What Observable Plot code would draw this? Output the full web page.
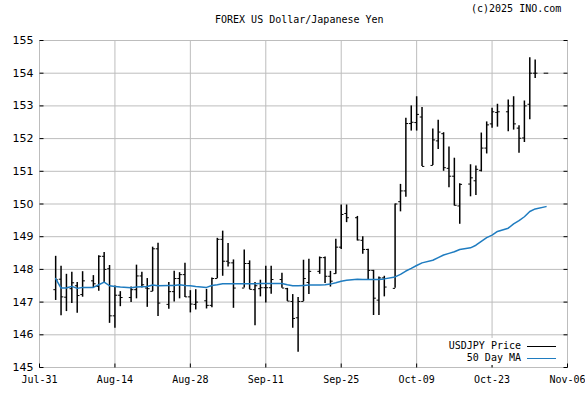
<!DOCTYPE html>
<html><head><meta charset="utf-8">
<script src="https://cdn.jsdelivr.net/npm/d3@7"></script>
<script src="https://cdn.jsdelivr.net/npm/@observablehq/plot@0.6"></script>
<style>
body{margin:0;background:#fff;}
#wrap{position:relative;width:585px;height:394px;font-family:"DejaVu Sans Mono",monospace;}
.t{position:absolute;font-size:10px;line-height:12px;color:#000;white-space:nowrap;}
#legend{position:absolute;left:440px;top:338px;width:126px;height:27px;background:#fff;}
.row{position:absolute;right:0;height:12px;font-size:10px;line-height:12px;display:flex;align-items:center;}
.sw{display:inline-block;width:29px;height:0;margin-left:6px;margin-right:10px;}
</style></head><body><div id="wrap"></div>
<script>
const title = "FOREX US Dollar/Japanese Yen";
const copyright = "(c)2025 INO.com";
const seriesNames = ["USDJPY Price", "50 Day MA"];
const xTicks = ["2025-07-31","2025-08-14","2025-08-28","2025-09-11","2025-09-25","2025-10-09","2025-10-23","2025-11-06"];
const yTicks = [145,146,147,148,149,150,151,152,153,154,155];

const dates = ["2025-08-03","2025-08-04","2025-08-05","2025-08-06","2025-08-07","2025-08-08",
"2025-08-10","2025-08-11","2025-08-12","2025-08-13","2025-08-14","2025-08-15",
"2025-08-17","2025-08-18","2025-08-19","2025-08-20","2025-08-21","2025-08-22",
"2025-08-24","2025-08-25","2025-08-26","2025-08-27","2025-08-28","2025-08-29",
"2025-08-31","2025-09-01","2025-09-02","2025-09-03","2025-09-04","2025-09-05",
"2025-09-07","2025-09-08","2025-09-09","2025-09-10","2025-09-11","2025-09-12",
"2025-09-14","2025-09-15","2025-09-16","2025-09-17","2025-09-18","2025-09-19",
"2025-09-21","2025-09-22","2025-09-23","2025-09-24","2025-09-25","2025-09-26",
"2025-09-28","2025-09-29","2025-09-30","2025-10-01","2025-10-02","2025-10-03",
"2025-10-05","2025-10-06","2025-10-07","2025-10-08","2025-10-09","2025-10-10",
"2025-10-12","2025-10-13","2025-10-14","2025-10-15","2025-10-16","2025-10-17",
"2025-10-19","2025-10-20","2025-10-21","2025-10-22","2025-10-23","2025-10-24",
"2025-10-26","2025-10-27","2025-10-28","2025-10-29","2025-10-30","2025-10-31",
"2025-11-02"];
const open = [147.38,147.70,147.15,147.41,147.50,147.23,
147.65,147.48,148.40,148.02,146.58,147.21,
147.14,147.38,147.80,147.43,147.33,148.63,
146.93,147.32,147.72,147.84,147.16,146.93,
147.04,146.90,147.72,148.92,148.25,148.20,
147.43,148.18,147.38,147.41,147.44,147.44,
147.69,147.41,147.02,146.52,147.02,147.60,
147.94,148.36,147.79,147.87,148.68,149.71,
149.58,148.89,148.61,147.97,147.06,147.74,
147.42,150.07,150.40,152.46,152.49,152.66,
151.18,151.93,152.15,151.09,150.85,149.94,
150.61,150.71,151.03,151.71,152.45,152.80,
152.82,153.00,152.32,152.02,153.05,154.00,
154.00];
const high = [148.40,148.10,147.85,147.91,147.60,147.93,
147.81,148.42,148.52,148.12,147.49,147.32,
147.46,148.13,147.91,147.72,148.68,148.80,
147.60,147.94,147.90,148.19,147.35,147.38,
147.39,147.74,148.95,149.17,148.79,148.29,
148.59,148.26,147.60,147.67,148.10,148.10,
147.88,147.42,147.23,147.14,148.28,148.31,
148.38,148.38,147.94,148.92,149.97,149.97,
149.62,149.00,148.62,147.97,147.77,147.79,
150.00,150.60,152.62,153.00,153.28,152.95,
152.29,152.56,152.18,151.74,151.40,150.62,
151.20,151.16,152.17,152.51,152.93,153.05,
153.18,153.28,152.39,153.15,154.47,154.40,
154.00];
const low = [147.05,146.58,146.71,146.96,146.66,147.15,
147.44,147.33,147.57,146.35,146.20,146.86,
146.99,147.10,147.43,146.84,147.32,146.56,
146.78,147.00,147.10,147.14,146.67,146.76,
146.79,146.83,147.72,147.79,148.07,146.81,
147.43,147.38,146.28,147.16,146.97,147.24,
147.42,147.02,146.20,145.47,147.02,147.23,
147.85,147.57,147.46,147.85,148.61,149.43,
148.87,148.46,147.66,146.59,146.59,147.16,
147.42,149.76,150.21,152.23,152.23,151.15,
151.18,151.67,151.00,150.50,149.94,149.38,
150.22,150.26,150.98,151.53,152.32,152.35,
152.21,152.26,151.55,151.88,152.58,153.84,
154.00];
const close = [147.68,147.16,147.45,147.59,147.20,147.65,
147.56,148.40,148.00,146.58,147.21,147.14,
147.38,147.80,147.53,147.41,148.63,146.97,
147.32,147.72,147.84,147.16,146.94,147.00,
146.90,147.72,148.92,148.25,148.20,147.43,
148.18,147.39,147.50,147.44,147.44,147.69,
147.43,147.03,146.50,147.02,147.72,147.94,
148.36,147.79,147.64,148.68,149.68,149.58,
148.90,148.61,147.97,147.12,147.74,147.46,
150.00,150.40,152.46,152.50,152.74,151.15,
151.96,152.20,151.11,150.85,149.96,150.60,
150.80,151.06,151.71,152.42,152.82,152.82,
153.00,152.45,152.01,153.00,154.00,154.00,
154.00];
const ma50 = [147.72,147.43,147.43,147.48,147.42,147.45,
147.45,147.53,147.61,147.50,147.48,147.46,
147.44,147.46,147.47,147.48,147.52,147.50,
147.51,147.51,147.53,147.51,147.50,147.48,
147.45,147.51,147.53,147.56,147.56,147.56,
147.56,147.56,147.56,147.57,147.57,147.57,
147.57,147.53,147.50,147.50,147.51,147.52,
147.52,147.53,147.55,147.59,147.64,147.67,
147.70,147.69,147.69,147.69,147.69,147.71,
147.77,147.85,147.95,148.03,148.12,148.20,
148.28,148.36,148.44,148.49,148.54,148.61,
148.66,148.74,148.86,148.97,149.05,149.16,
149.26,149.39,149.49,149.61,149.77,149.85,
149.92];

const parse = d3.utcParse("%Y-%m-%d");
const rows = dates.map((d, i) => ({date: parse(d), open: open[i], high: high[i], low: low[i], close: close[i], ma: ma50[i]}));
const tickDates = xTicks.map(parse);

const sym = (x1, y1, x2, y2) => ({draw(ctx) { ctx.moveTo(x1, y1); ctx.lineTo(x2, y2); }});
const openTick = sym(-2.3, 0, 0, 0);
const closeTick = sym(0, 0, 2.3, 0);

const chart = Plot.plot({
  width: 585, height: 394,
  marginLeft: 39, marginRight: 18, marginTop: 40, marginBottom: 27,
  style: {background: "transparent", fontFamily: "DejaVu Sans Mono", fontSize: "10px", color: "#000", overflow: "visible"},
  x: {type: "utc", domain: [tickDates[0], tickDates[tickDates.length - 1]]},
  y: {domain: [145, 155]},
  marks: [
    Plot.gridX(tickDates, {stroke: "#bdbdbd", strokeOpacity: 1}),
    Plot.gridY(yTicks, {stroke: "#bdbdbd", strokeOpacity: 1}),
    Plot.axisX(tickDates, {tickSize: 0, tickPadding: 8, tickFormat: d3.utcFormat("%b-%d"), fontFamily: "DejaVu Sans Mono", fontSize: 10, fill: "#000"}),
    Plot.axisY(yTicks, {tickSize: 0, tickPadding: 6, fontFamily: "DejaVu Sans", fontSize: 11, fill: "#000"}),
    Plot.dot(yTicks, {y: d => d, frameAnchor: "left", symbol: sym(0, 0, 4, 0), stroke: "#000", fill: "none", strokeWidth: 1}),
    Plot.dot(yTicks, {y: d => d, frameAnchor: "right", symbol: sym(-4, 0, 0, 0), stroke: "#000", fill: "none", strokeWidth: 1}),
    Plot.dot(tickDates, {x: d => d, frameAnchor: "bottom", symbol: sym(0, -4, 0, 0), stroke: "#000", fill: "none", strokeWidth: 1}),
    Plot.ruleX(rows, {x: "date", y1: "low", y2: "high", stroke: "#000", strokeWidth: 1.5}),
    Plot.dot(rows, {x: "date", y: "open", symbol: openTick, stroke: "#000", fill: "none", strokeWidth: 1}),
    Plot.dot(rows, {x: "date", y: "close", symbol: closeTick, stroke: "#000", fill: "none", strokeWidth: 1}),
    Plot.line(rows, {x: "date", y: "ma", stroke: "#1f7cc0", strokeWidth: 1.5})
  ]
});

const wrap = document.getElementById("wrap");
wrap.appendChild(chart);

const tDiv = document.createElement("div");
tDiv.className = "t"; tDiv.style.left = "215px"; tDiv.style.top = "14px"; tDiv.textContent = title;
wrap.appendChild(tDiv);
const cDiv = document.createElement("div");
cDiv.className = "t"; cDiv.style.left = "471px"; cDiv.style.top = "3px"; cDiv.textContent = copyright;
wrap.appendChild(cDiv);

const leg = document.createElement("div");
leg.id = "legend";
const colors = ["#000", "#1f7cc0"];
seriesNames.forEach((name, i) => {
  const r = document.createElement("div");
  r.className = "row";
  r.style.top = (2 + i * 12) + "px";
  const s = document.createElement("span"); s.textContent = name;
  const l = document.createElement("span"); l.className = "sw"; l.style.borderTop = "1px solid " + colors[i];
  r.appendChild(s); r.appendChild(l);
  leg.appendChild(r);
});
wrap.appendChild(leg);
</script>
</body></html>
